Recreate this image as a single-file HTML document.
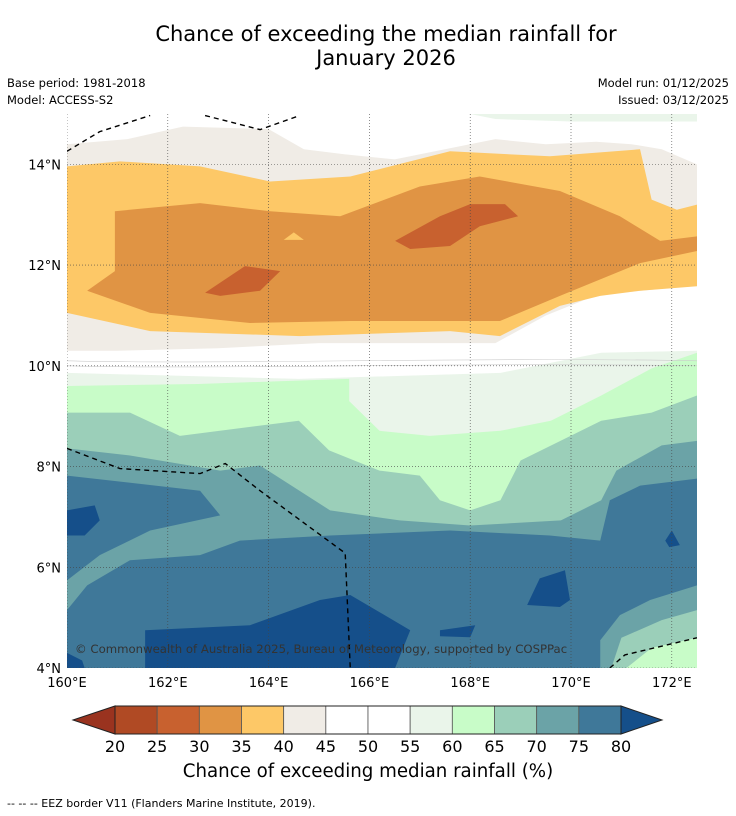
<!DOCTYPE html>
<html><head><meta charset="utf-8">
<style>
body{margin:0;background:#fff;font-family:"DejaVu Sans","Liberation Sans",sans-serif;}
#wrap{position:relative;width:736px;height:816px;overflow:hidden;}
.t{position:absolute;white-space:nowrap;color:#000;}
</style></head>
<body>
<div id="wrap">
<div class="t" style="left:0;width:772px;text-align:center;top:22px;font-size:21px;line-height:24px;">Chance of exceeding the median rainfall for<br>January 2026</div>
<div class="t" style="left:7px;top:76px;font-size:11.5px;">Base period: 1981-2018</div>
<div class="t" style="left:7px;top:93px;font-size:11.5px;">Model: ACCESS-S2</div>
<div class="t" style="right:7px;top:76px;font-size:11.5px;">Model run: 01/12/2025</div>
<div class="t" style="right:7px;top:93px;font-size:11.5px;">Issued: 03/12/2025</div>
<svg id="map" width="736" height="816" style="position:absolute;left:0;top:0"></svg>
<div class="t" style="left:0;width:736px;text-align:center;top:761px;font-size:18.2px;">Chance of exceeding median rainfall (%)</div>
<div class="t" style="left:7px;top:797px;font-size:11px;">--  --  -- EEZ border V11 (Flanders Marine Institute, 2019).</div>
</div>
<script>
const lonTicks=[160,162,164,166,168,170,172];
const latTicks=[4,6,8,10,12,14];
const levels=[20,25,30,35,40,45,50,55,60,65,70,75,80];
const bandColors=["#b04a24","#c8612f","#e09444","#fdc867","#f0ece6","#ffffff","#ffffff","#eaf5ea","#c8fcc8","#9bcfb9","#6ba3a7","#3f7899"];
const lowColor="#9a331f", highColor="#154f8a";
const beige=[[160,14.4],[161.2,14.5],[162.3,14.75],[164,14.7],[164.7,14.3],[165.5,14.2],[166.5,14.1],[167.5,14.3],[168.5,14.5],[169.5,14.4],[170.5,14.45],[171.2,14.4],[171.8,14.3],[172.5,14.0],[172.5,11.6],[171.5,11.5],[170.5,11.4],[169.5,11.0],[168.5,10.45],[167,10.45],[165,10.45],[163,10.35],[161,10.3],[160,10.3]];
const lg55=[[168,15],[172.5,15],[172.5,14.85],[170,14.85],[168.5,14.9]];
const g55=[[160,9.86],[164.6,9.74],[168.6,9.86],[170.6,10.26],[172.5,10.3],[172.5,4],[160,4]];
const g60=[[160,9.6],[162.6,9.64],[165.6,9.74],[165.6,9.3],[166.2,8.71],[167.2,8.61],[168.6,8.71],[169.6,8.91],[170.6,9.41],[171.6,9.95],[172.5,10.26],[172.5,4],[160,4]];
const g65=[[160,9.07],[161.25,9.07],[162.24,8.61],[164.6,8.91],[165.2,8.32],[166.2,7.92],[167,7.82],[167.4,7.33],[168,7.13],[168.6,7.33],[169,8.12],[170.6,8.91],[171.6,9.07],[172.5,9.41],[172.5,4],[160,4]];
const g70=[[160,8.36],[161.25,8.22],[163.04,7.92],[163.83,8.02],[165.22,7.13],[166.6,6.93],[168,6.83],[169.8,6.93],[170.6,7.33],[170.9,7.92],[171.8,8.42],[172.5,8.51],[172.5,4],[160,4]];
const b75a=[[160,7.82],[162.64,7.52],[163.04,7.03],[161.65,6.73],[160.65,6.24],[160,5.74]];
const b75b=[[160,5.15],[160.4,5.64],[161.25,6.14],[162.64,6.24],[163.43,6.53],[165.22,6.63],[167.6,6.73],[169.58,6.63],[170.58,6.53],[170.77,7.33],[171.37,7.62],[172.5,7.76],[172.5,5.64],[171.57,5.35],[170.97,5.05],[170.58,4.55],[170.58,4],[160,4]];
const br65=[[170.8,4],[171,4.6],[171.8,4.95],[172.5,5.15],[172.5,4]];
const br60=[[171.1,4],[171.6,4.4],[172.5,4.6],[172.5,4]];
const d80a=[[161.55,4.75],[163.63,4.85],[165.02,5.35],[165.62,5.45],[166.81,4.75],[166.51,4],[161.55,4]];
const d80b=[[160,7.13],[160.55,7.23],[160.65,6.93],[160.35,6.63],[160,6.63]];
const d80c=[[169.13,5.25],[169.38,5.78],[169.88,5.94],[169.98,5.35],[169.78,5.21]];
const d80d=[[167.4,4.75],[168.1,4.85],[168,4.61],[167.4,4.63]];
const d80e=[[171.87,6.53],[172,6.73],[172.16,6.44],[171.95,6.4]];
const d80f=[[160,4.3],[160.3,4.15],[160.35,4],[160,4]];
const y35=[[160,13.96],[161.05,14.06],[162.64,13.96],[164.03,13.66],[165.62,13.76],[167.6,14.26],[169.58,14.16],[171.37,14.3],[171.6,13.3],[172.1,13.1],[172.5,13.2],[172.5,11.58],[171.37,11.49],[170.58,11.39],[169.78,11.19],[168.59,10.59],[167.6,10.69],[164.62,10.59],[161.65,10.69],[160,11.05]];
const o30=[[160.4,11.49],[160.95,11.88],[160.95,13.07],[162.64,13.23],[164.03,13.07],[165.42,12.97],[167,13.56],[168.19,13.76],[169.78,13.47],[170.97,12.97],[171.77,12.48],[172.5,12.57],[172.5,12.28],[171.37,12.04],[169.78,11.39],[168.59,10.89],[167.4,10.89],[165.62,10.89],[163.63,10.85],[161.65,11.05]];
const yIsl=[[164.3,12.5],[164.5,12.65],[164.7,12.5]];
const r25a=[[166.51,12.48],[167.4,12.97],[168,13.21],[168.69,13.21],[168.95,12.97],[168.19,12.77],[167.6,12.38],[166.81,12.32]];
const r25b=[[162.74,11.45],[163.53,11.98],[164.23,11.88],[163.83,11.49],[163.04,11.39]];
const regions=[[beige,40],[lg55,55],[g55,55],[g60,60],[g65,65],[g70,70],[b75a,75],[b75b,75],[br65,65],[br60,60],[d80a,80],[d80b,80],[d80c,80],[d80d,80],[d80e,80],[d80f,80],[y35,35],[o30,30],[yIsl,35],[r25a,25],[r25b,25]];
const eez1=[[160,14.26],[160.65,14.65],[161.65,14.97]];
const eez2=[[162.74,14.97],[163.83,14.69],[164.62,14.97]];
const eez3=[[160,8.36],[161.05,7.96],[162.64,7.86],[163.14,8.06],[163.83,7.52],[165.52,6.28],[165.62,4]];
const eez4=[[170.77,4],[171.07,4.26],[172.5,4.6]];
const eezLines=[eez1,eez2,eez3,eez4];

const NS="http://www.w3.org/2000/svg";
const FONT="DejaVu Sans, Liberation Sans, sans-serif";
const svg=document.getElementById('map');
const X0=67,X1=697,Y0=114,Y1=668,LON0=160,LON1=172.5,LAT0=4,LAT1=15;
const xs=lon=>X0+(lon-LON0)/(LON1-LON0)*(X1-X0);
const ys=lat=>Y1-(lat-LAT0)/(LAT1-LAT0)*(Y1-Y0);
function colorFor(v){if(v>=80)return highColor;if(v<20)return lowColor;return bandColors[Math.floor((v-20)/5)];}
function mk(t,a){const e=document.createElementNS(NS,t);for(const k in a)e.setAttribute(k,a[k]);svg.appendChild(e);return e;}
const cp=mk('clipPath',{id:'mc'});const cr=document.createElementNS(NS,'rect');
cr.setAttribute('x',X0);cr.setAttribute('y',Y0);cr.setAttribute('width',X1-X0);cr.setAttribute('height',Y1-Y0);cp.appendChild(cr);
const g=mk('g',{'clip-path':'url(#mc)'});
const bg=document.createElementNS(NS,'rect');bg.setAttribute('x',X0);bg.setAttribute('y',Y0);bg.setAttribute('width',X1-X0);bg.setAttribute('height',Y1-Y0);bg.setAttribute('fill','#fff');g.appendChild(bg);
regions.forEach((r,i)=>{
  const p=document.createElementNS(NS,'polygon');
  p.setAttribute('points',r[0].map(q=>xs(q[0])+','+ys(q[1])).join(' '));
  p.setAttribute('fill',colorFor(r[1]));
  
  
  g.appendChild(p);
});
[10.1,10.0].forEach(la=>{const l=document.createElementNS(NS,'path');
  l.setAttribute('d','M'+X0+','+ys(la)+' C'+xs(163)+','+(ys(la)+4)+' '+xs(168)+','+(ys(la)-4)+' '+X1+','+ys(la));
  l.setAttribute('stroke','#ccc');l.setAttribute('stroke-width','0.6');l.setAttribute('fill','none');g.appendChild(l);});
lonTicks.forEach(lo=>{const l=document.createElementNS(NS,'line');l.setAttribute('x1',xs(lo));l.setAttribute('x2',xs(lo));l.setAttribute('y1',Y0);l.setAttribute('y2',Y1);l.setAttribute('stroke','#444');l.setAttribute('stroke-width','0.6');l.setAttribute('stroke-dasharray','1,2');
  g.appendChild(l);});
latTicks.forEach(la=>{const l=document.createElementNS(NS,'line');l.setAttribute('y1',ys(la));l.setAttribute('y2',ys(la));l.setAttribute('x1',X0);l.setAttribute('x2',X1);l.setAttribute('stroke','#444');l.setAttribute('stroke-width','0.6');l.setAttribute('stroke-dasharray','1,2');
  g.appendChild(l);});
eezLines.forEach(ln=>{const p=document.createElementNS(NS,'polyline');
  p.setAttribute('points',ln.map(q=>xs(q[0])+','+ys(q[1])).join(' '));
  p.setAttribute('fill','none');p.setAttribute('stroke','#000');p.setAttribute('stroke-width','1.4');p.setAttribute('stroke-dasharray','5,4');
  g.appendChild(p);});
const cpr=document.createElementNS(NS,'text');cpr.setAttribute('x',75);cpr.setAttribute('y',653);cpr.setAttribute('font-size','11.7');cpr.setAttribute('fill','#333');cpr.setAttribute('font-family',FONT);
cpr.textContent='© Commonwealth of Australia 2025, Bureau of Meteorology, supported by COSPPac';
g.appendChild(cpr);
lonTicks.forEach(lo=>{const t=mk('text',{x:xs(lo),y:687,'font-size':13,'text-anchor':'middle','font-family':FONT});t.textContent=lo+'°E';
  });
latTicks.forEach(la=>{const t=mk('text',{x:61,y:ys(la)+5,'font-size':13,'text-anchor':'end','font-family':FONT});t.textContent=la+'°N';
  });
const CB0=115,CB1=621,CBY=706,CBH=28;
const cbx=v=>CB0+(v-levels[0])/(levels[levels.length-1]-levels[0])*(CB1-CB0);
const lt=mk('polygon',{points:`73,${CBY+CBH/2} ${CB0},${CBY} ${CB0},${CBY+CBH}`,fill:lowColor,stroke:'#222','stroke-width':1});

const rt=mk('polygon',{points:`662,${CBY+CBH/2} ${CB1},${CBY} ${CB1},${CBY+CBH}`,fill:highColor,stroke:'#222','stroke-width':1});

bandColors.forEach((c,i)=>{const r=mk('rect',{x:cbx(levels[i]),y:CBY,width:cbx(levels[i+1])-cbx(levels[i]),height:CBH,fill:c,stroke:'#555','stroke-width':0.8});
  });
mk('rect',{x:CB0,y:CBY,width:CB1-CB0,height:CBH,fill:'none',stroke:'#222','stroke-width':1});
levels.forEach(v=>{const t=mk('text',{x:cbx(v),y:752,'font-size':16,'text-anchor':'middle','font-family':FONT});t.textContent=v;
  });
</script>
</body></html>
